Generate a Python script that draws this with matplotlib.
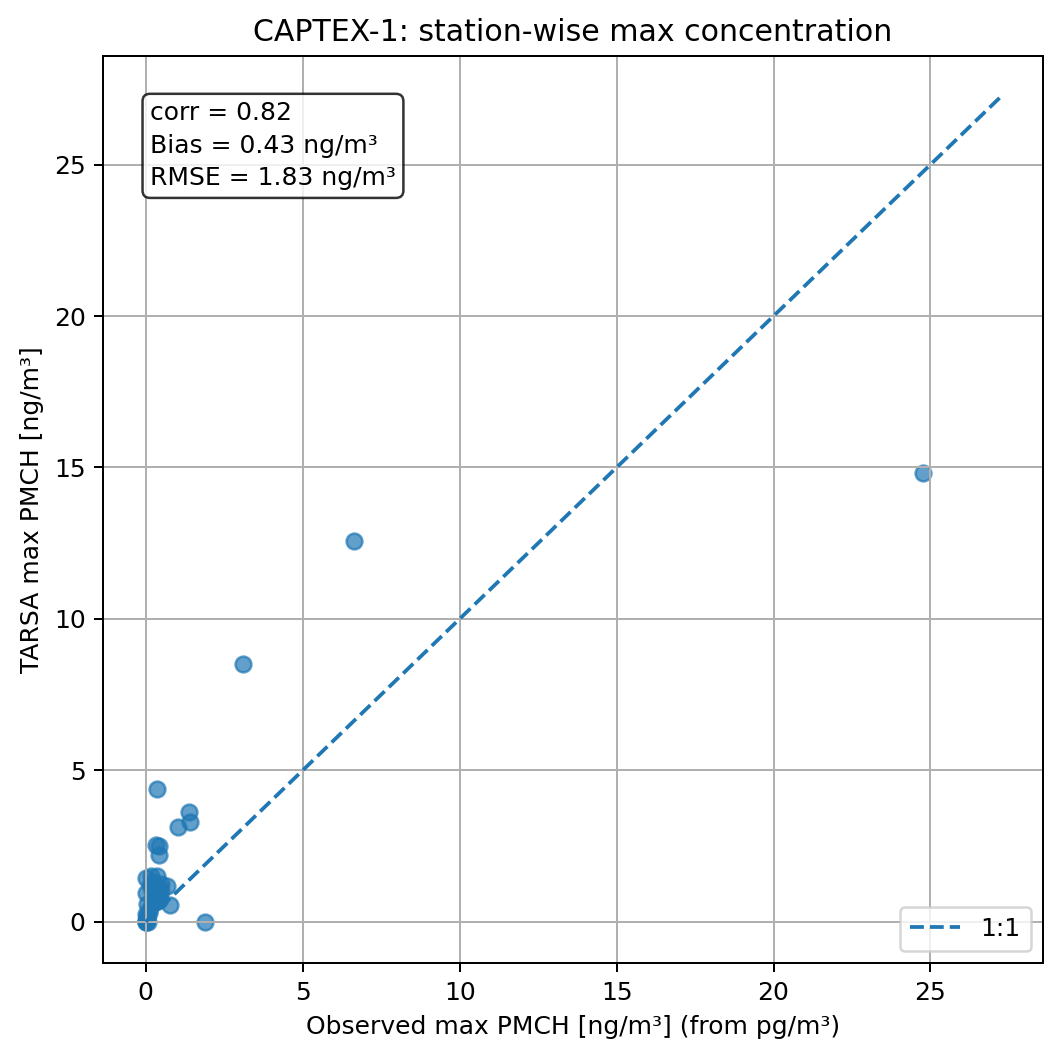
import matplotlib
matplotlib.use("Agg")
import matplotlib.pyplot as plt
import numpy as np

# Observed max PMCH [ng/m3] and TARSA max PMCH [ng/m3] per station
obs = [24.75, 6.65, 3.10, 1.90, 0.35, 1.37, 1.41, 1.02, 0.32, 0.43, 0.42,
       0.69, 0.77, 0.00, 0.17, 0.35, 0.50, 0.42, 0.00, 0.05, 0.10, 0.25,
       0.30, 0.20, 0.45, 0.15, 0.05, 0.00, 0.02, 0.08, 0.03, 0.00, 0.01,
       0.12, 0.28, 0.38, 0.22, 0.48]
model = [14.81, 12.57, 8.51, 0.00, 4.37, 3.64, 3.31, 3.14, 2.52, 2.50, 2.19,
         1.17, 0.57, 1.45, 1.50, 1.50, 1.25, 1.10, 0.95, 0.60, 0.30, 0.80,
         0.65, 1.00, 0.75, 1.20, 0.20, 0.00, 0.00, 0.00, 0.10, 0.25, 0.05,
         0.45, 0.90, 0.70, 1.30, 1.00]

stats_text = "corr = 0.82\nBias = 0.43 ng/m³\nRMSE = 1.83 ng/m³"

DPI = 180
fig = plt.figure(figsize=(1060/DPI, 1060/DPI), dpi=DPI)
ax = fig.add_axes([0.0972, 0.0915, 0.8868, 0.8557])

ax.scatter(obs, model, s=40, alpha=0.7, color="tab:blue")
lo = min(min(obs), min(model))
hi = 1.1 * max(max(obs), max(model))
ax.plot([lo, hi], [lo, hi], "--", color="tab:blue", lw=1.5, label="1:1")

ax.set_xlabel("Observed max PMCH [ng/m³] (from pg/m³)")
ax.set_ylabel("TARSA max PMCH [ng/m³]")
ax.set_title("CAPTEX-1: station-wise max concentration", fontsize=12)
ax.grid(True)
ax.legend(loc="lower right")
ax.text(0.05, 0.95, stats_text, transform=ax.transAxes, va="top", ha="left",
        linespacing=1.45,
        bbox=dict(boxstyle="round", facecolor="white", alpha=0.8))

fig.savefig("out.png", dpi=DPI)
